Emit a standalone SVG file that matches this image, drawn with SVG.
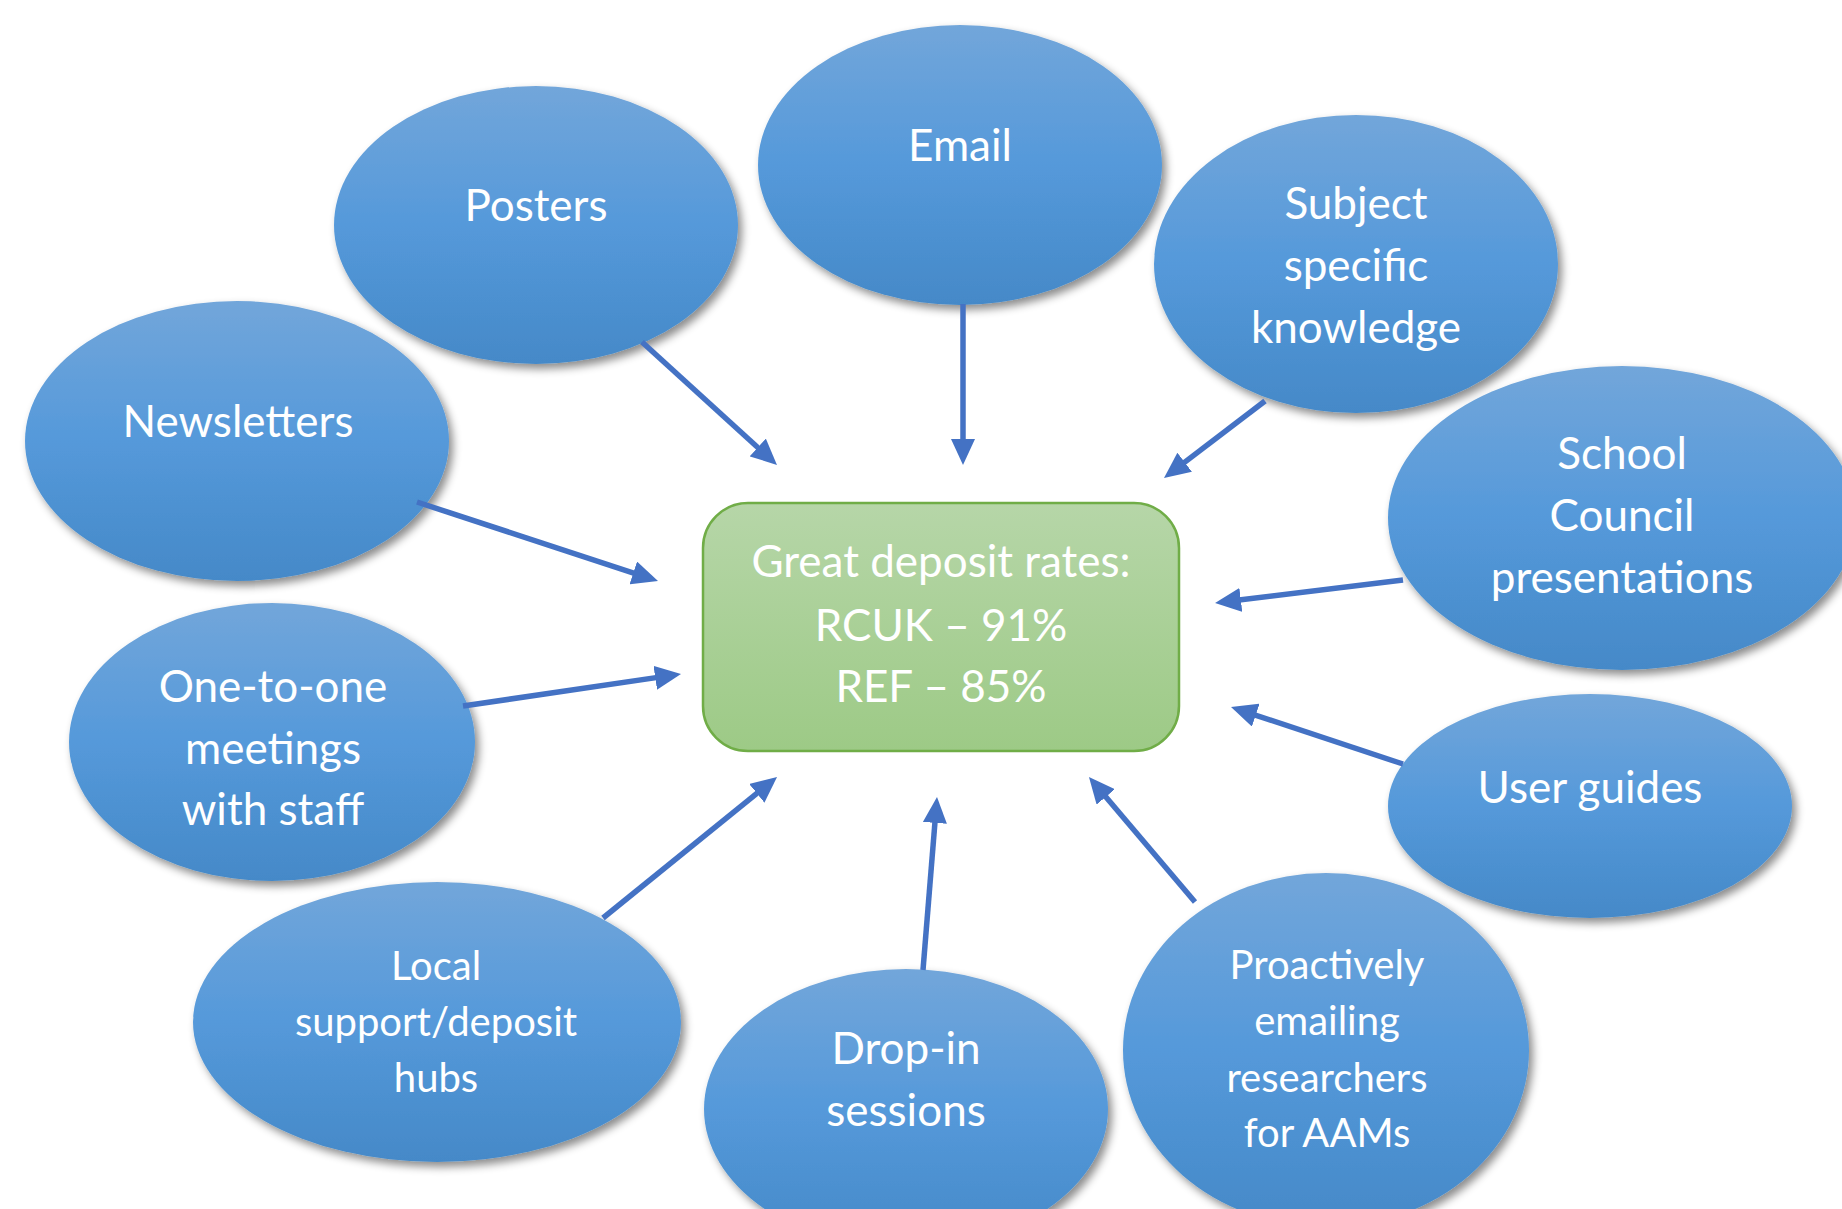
<svg xmlns="http://www.w3.org/2000/svg" width="1842" height="1209" viewBox="0 0 1842 1209">
<defs>
<linearGradient id="blue" x1="0" y1="0" x2="0" y2="1">
<stop offset="0" stop-color="#72A6DA"/>
<stop offset="0.5" stop-color="#5599DA"/>
<stop offset="1" stop-color="#4589C8"/>
</linearGradient>
<linearGradient id="green" x1="0" y1="0" x2="0" y2="1">
<stop offset="0" stop-color="#B6D6A8"/>
<stop offset="1" stop-color="#9DCA86"/>
</linearGradient>
<filter id="shadow" x="-20%" y="-20%" width="140%" height="140%">
<feDropShadow dx="4" dy="5" stdDeviation="4" flood-color="#000" flood-opacity="0.45"/>
</filter>
<marker id="arrow" markerUnits="userSpaceOnUse" markerWidth="26" markerHeight="24" refX="6" refY="12" orient="auto">
<path d="M0,0 L26,12 L0,24 Z" fill="#4472C4"/>
</marker>
</defs>
<style>
.node ellipse{fill:url(#blue);filter:url(#shadow);}
.t{font-family:Lato,"Open Sans","Liberation Sans",sans-serif;font-size:44px;fill:#FFFFFF;text-anchor:middle;}
.s{font-size:40px;}
.conn line{stroke:#4472C4;stroke-width:5.5;marker-end:url(#arrow);}
</style>
<rect width="1842" height="1209" fill="#FFFFFF"/>

<g id="node-posters" class="node">
<ellipse cx="536" cy="225" rx="202" ry="139"/>
<text class="t" x="536" y="221">Posters</text>
</g>
<g id="node-email" class="node">
<ellipse cx="960" cy="165" rx="202" ry="140"/>
<text class="t" x="960" y="161">Email</text>
</g>
<g id="node-subject" class="node">
<ellipse cx="1356" cy="264" rx="202" ry="149"/>
<text class="t" x="1356" y="219">Subject</text>
<text class="t" x="1356" y="281">specific</text>
<text class="t" x="1356" y="343">knowledge</text>
</g>
<g id="node-school" class="node">
<ellipse cx="1622" cy="518" rx="234" ry="152"/>
<text class="t" x="1622" y="469">School</text>
<text class="t" x="1622" y="531">Council</text>
<text class="t" x="1622" y="593">presentations</text>
</g>
<g id="node-newsletters" class="node">
<ellipse cx="237" cy="441" rx="212" ry="140"/>
<text class="t" x="238" y="437">Newsletters</text>
</g>
<g id="node-onetoone" class="node">
<ellipse cx="272" cy="742" rx="203" ry="139"/>
<text class="t" x="273" y="702">One-to-one</text>
<text class="t" x="273" y="764">meetings</text>
<text class="t" x="273" y="825">with staff</text>
</g>
<g id="node-local" class="node">
<ellipse cx="437" cy="1022" rx="244" ry="140"/>
<text class="t s" x="436" y="980">Local</text>
<text class="t s" x="436" y="1036">support/deposit</text>
<text class="t s" x="436" y="1092">hubs</text>
</g>
<g id="node-dropin" class="node">
<ellipse cx="906" cy="1109" rx="202" ry="140"/>
<text class="t" x="906" y="1064">Drop-in</text>
<text class="t" x="906" y="1126">sessions</text>
</g>
<g id="node-proactive" class="node">
<ellipse cx="1326" cy="1050" rx="203" ry="177"/>
<text class="t s" x="1327" y="979">Proactively</text>
<text class="t s" x="1327" y="1035">emailing</text>
<text class="t s" x="1327" y="1092">researchers</text>
<text class="t s" x="1327" y="1147">for AAMs</text>
</g>
<g id="node-userguides" class="node">
<ellipse cx="1590" cy="806" rx="202" ry="112"/>
<text class="t" x="1590" y="803">User guides</text>
</g>
<g id="node-center">
<rect x="703" y="503" width="476" height="248" rx="45" ry="45" fill="url(#green)" stroke="#70AD47" stroke-width="2.5"/>
<text class="t" x="941" y="577">Great deposit rates:</text>
<text class="t" x="941" y="641">RCUK – 91%</text>
<text class="t" x="941" y="702">REF – 85%</text>
</g>

<g id="connectors" class="conn">
<line x1="642" y1="342" x2="762.2" y2="451.5"/>
<line x1="417" y1="502" x2="639.0" y2="574.8"/>
<line x1="963" y1="304" x2="963" y2="445"/>
<line x1="1265" y1="401" x2="1179.9" y2="465.9"/>
<line x1="1403" y1="580" x2="1234.9" y2="600.6"/>
<line x1="1403" y1="764" x2="1250.0" y2="713.3"/>
<line x1="1195" y1="902" x2="1101.9" y2="792.3"/>
<line x1="923" y1="970" x2="935.4" y2="816.9"/>
<line x1="603" y1="918" x2="761.5" y2="789.6"/>
<line x1="463" y1="706" x2="661.2" y2="676.9"/>
</g>
</svg>
